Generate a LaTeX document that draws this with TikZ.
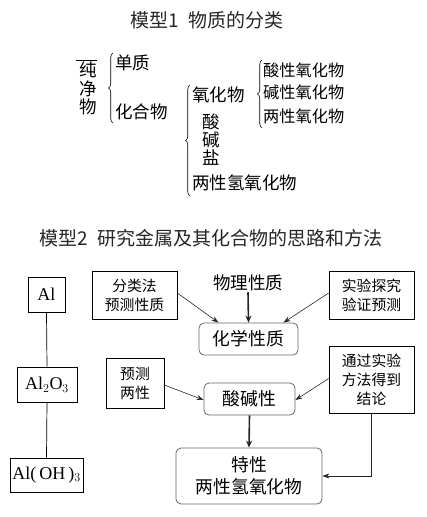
\documentclass[tikz,border=0pt]{standalone}
\usepackage{fontspec}
\setmainfont{Liberation Serif}
\newfontfamily\cjk{Noto Sans CJK SC}
\usetikzlibrary{arrows.meta,decorations.pathreplacing}
\begin{document}
\begin{tikzpicture}[x=1pt,y=-1pt,
  txt/.style={inner sep=0pt,font=\cjk\fontsize{17.5}{21}\selectfont,anchor=west},
  stxt/.style={inner sep=0pt,font=\cjk\fontsize{16.2}{20}\selectfont,anchor=west},
  ttl/.style={inner sep=0pt,font=\cjk\fontsize{19}{23}\selectfont,text=black!85},
  brc/.style={decorate,decoration={brace,amplitude=4.5pt},line width=0.6pt},
  box/.style={draw,line width=0.7pt,inner sep=0pt,align=center,font=\cjk\fontsize{14.8}{19}\selectfont},
  rbox/.style={draw=black!60,line width=0.8pt,rounded corners=5pt,inner sep=0pt,align=center,font=\cjk\fontsize{17.8}{22}\selectfont},
  albox/.style={draw,line width=0.7pt,inner sep=0pt,font=\fontsize{18}{21}\selectfont},
  thin/.style={-{Stealth[length=7pt,width=5pt]},line width=0.6pt,black!85},
  thick/.style={-{Stealth[length=7pt,width=6pt]},line width=1.6pt,black!85}]
\useasboundingbox (0,0) rectangle (427,517);
% ---- model 1
\node[ttl] (t1) at (207,20) {模型1\hspace{0.5em}物质的分类};
\node[txt,anchor=center] (c1) at (88,70) {纯};
\node[txt,anchor=center] (c2) at (88,88.5) {净};
\node[txt,anchor=center] (c3) at (88,107) {物};
\coordinate (ol1) at (76,60.5); \coordinate (ol2) at (97,60.5);
\draw[line width=0.7pt] (ol1) -- (ol2);
\coordinate (b1a) at (113,123); \coordinate (b1b) at (113,53);
\draw[brc] (b1a) -- (b1b);
\node[txt] (dz) at (115,63) {单质};
\node[txt] (hhw) at (115,112) {化合物};
\coordinate (b2a) at (190,196); \coordinate (b2b) at (190,85);
\draw[brc] (b2a) -- (b2b);
\node[txt] (yhw) at (192,95) {氧化物};
\node[txt,anchor=center] (s1) at (211.5,122) {酸};
\node[txt,anchor=center] (s2) at (211.5,140) {碱};
\node[txt,anchor=center] (s3) at (211.5,158) {盐};
\node[txt] (lxq) at (192,183) {两性氢氧化物};
\coordinate (b3a) at (262,128); \coordinate (b3b) at (262,60);
\draw[brc] (b3a) -- (b3b);
\node[stxt] (sx) at (263,70) {酸性氧化物};
\node[stxt] (jx) at (263,92.5) {碱性氧化物};
\node[stxt] (lx) at (263,116) {两性氧化物};
% ---- model 2
\node[ttl] (t2) at (211,238) {模型2\hspace{0.5em}研究金属及其化合物的思路和方法};
\node[albox,minimum width=37pt,minimum height=35pt] (al) at (46.5,294.5) {Al};
\node[albox,minimum width=60pt,minimum height=35pt] (alo) at (47,384.5) {Al$_2$O$_3$};
\node[albox,minimum width=73pt,minimum height=34pt] (aloh) at (46.5,475) {Al(\,OH\,)$_3$};
\draw[line width=0.7pt] (al.south) -- (alo.north);
\draw[line width=0.7pt] (alo.south) -- (aloh.north);
\node[box,minimum width=85pt,minimum height=48pt] (fl) at (134.5,295) {分类法\\预测性质};
\node[inner sep=1pt,font=\cjk\fontsize{17.5}{21}\selectfont] (wl) at (248,283) {物理性质};
\node[box,minimum width=85pt,minimum height=48pt] (sy) at (371.5,295) {实验探究\\验证预测};
\node[rbox,minimum width=99pt,minimum height=32pt] (hx) at (248.5,339) {化学性质};
\node[box,minimum width=58pt,minimum height=50pt] (yc) at (135,383) {预测\\两性};
\node[rbox,minimum width=91pt,minimum height=32pt] (sj) at (249.5,399) {酸碱性};
\node[box,minimum width=85pt,minimum height=67pt] (tg) at (371.5,379.5) {通过实验\\方法得到\\结论};
\node[rbox,minimum width=146pt,minimum height=56pt] (tx) at (249,476) {特性\\两性氢氧化物};
\draw[thin] ([yshift=2pt]fl.east) -- ([xshift=-30pt]hx.north);
\draw[thick] (wl.south) -- (hx.north);
\draw[thin] ([yshift=2pt]sy.west) -- ([xshift=35pt]hx.north);
\draw[thin] ([yshift=-2pt]yc.east) -- ([yshift=-1pt]sj.west);
\draw[thin] ([yshift=1pt]tg.west) -- ([yshift=-1pt]sj.east);
\draw[thick] (sj.south) -- (tx.north);
\draw[thin] (tg.south) |- (tx.east);
\end{tikzpicture}
\end{document}
